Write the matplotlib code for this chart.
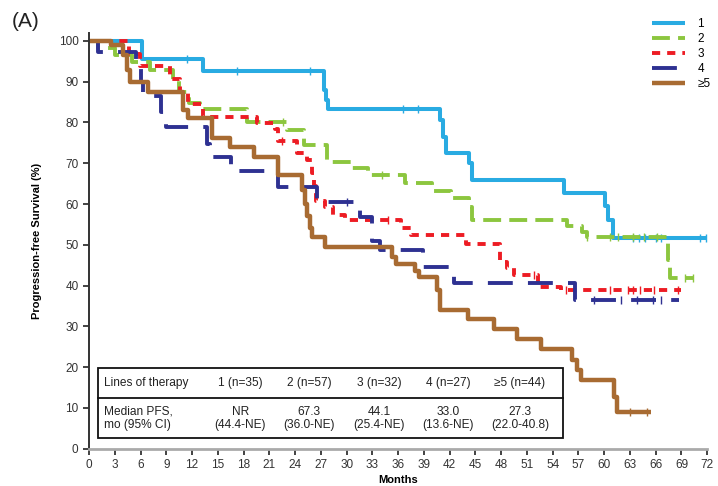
import numpy as np
import matplotlib.pyplot as plt
from matplotlib.patches import Rectangle

plt.rcParams['font.family'] = ['Liberation Sans', 'DejaVu Sans']

# Kaplan-Meier step data (months, % progression-free) per line of therapy
t1 = [0, 6.2, 13.3, 27.4, 27.6, 27.8, 40.9, 41.2, 41.6, 44.3, 44.6, 55.3, 60.1, 60.5, 61.0, 71.8]
s1 = [100, 95.6, 92.6, 88.0, 85.5, 83.2, 80.5, 76.4, 72.6, 70.0, 65.8, 62.7, 59.5, 56.0, 51.7, 51.7]
c1 = [11.4, 17.2, 25.7, 36.6, 38.3, 63.3, 64.0, 64.8, 66.0, 66.6, 71.2, 71.8]

t2 = [0, 1.0, 3.0, 5.0, 7.1, 9.8, 10.5, 11.7, 12.9, 18.4, 23.0, 25.0, 27.7, 30.6, 32.5, 36.8,
      40.0, 42.1, 44.2, 44.6, 55.7, 57.4, 58.0, 67.4, 67.7, 70.3]
s2 = [100, 98.2, 96.5, 94.7, 92.8, 90.4, 87.5, 84.7, 83.2, 80.1, 78.1, 74.4, 70.3, 68.8, 67.1, 65.1,
      63.2, 61.4, 59.2, 56.0, 54.6, 53.1, 52.0, 46.2, 41.8, 41.8]
c2 = [22.6, 34.1, 58.0, 60.7, 61.6, 63.3, 64.6, 66.2, 69.4, 70.3]

t3 = [0, 4.6, 5.9, 9.4, 10.6, 11.5, 13.3, 19.6, 21.7, 22.0, 24.2, 25.4, 26.0, 26.2, 26.4, 27.5,
      28.4, 29.8, 36.3, 37.5, 43.9, 47.9, 48.7, 49.5, 52.3, 55.0, 68.9]
s3 = [100, 96.9, 93.8, 90.6, 87.5, 84.4, 81.3, 79.8, 78.3, 75.5, 72.4, 70.7, 67.5, 64.4, 60.8, 59.2,
      57.4, 56.0, 54.0, 52.3, 50.3, 45.8, 44.2, 42.5, 39.6, 38.9, 38.9]
c3 = [22.5, 34.8, 51.8, 55.5, 60.7, 62.8, 63.3, 64.2, 65.8, 68.6]

t4 = [0, 1.0, 5.5, 6.0, 6.3, 8.4, 9.0, 13.7, 14.1, 16.5, 22.0, 26.5, 31.6, 33.0, 33.9, 38.9,
      42.5, 56.6, 68.7]
s4 = [100, 97.3, 93.6, 90.0, 86.5, 82.6, 79.0, 74.6, 71.5, 68.0, 64.2, 60.5, 56.9, 51.0, 48.7, 44.6,
      40.6, 36.4, 36.4]
c4 = [30.1, 58.8, 61.9, 63.8, 65.7, 66.6]

t5 = [0, 2.6, 3.9, 4.4, 4.8, 6.9, 11.0, 11.5, 14.3, 16.4, 19.2, 22.0, 24.8, 25.1, 25.4, 25.7,
      26.0, 27.5, 35.3, 35.8, 38.0, 38.4, 40.5, 40.9, 44.1, 47.2, 49.9, 52.6, 56.2, 56.8, 57.3,
      61.1, 61.5, 65.4]
s5 = [100, 99.0, 96.5, 92.8, 89.9, 87.5, 83.0, 81.0, 76.1, 74.0, 71.5, 67.1, 63.5, 60.0, 57.0, 54.1,
      51.8, 49.5, 47.1, 45.2, 43.6, 42.0, 38.9, 34.0, 31.8, 29.4, 26.8, 24.4, 21.8, 19.3, 16.8,
      12.7, 9.0, 9.0]
c5 = [63.0, 65.0]

labels = ['1', '2', '3', '4', '\u22655']
colors = ['#29abe2', '#8cc63f', '#ed1c24', '#2e3192', '#a86b32']
dashes = [None, (4.6, 2.1), (2.1, 1.8), (6.4, 3.9), None]
widths = [2.9, 2.8, 2.8, 2.8, 3.2]

# table under the curves
tbl_head = ['Lines of therapy', '1 (n=35)', '2 (n=57)', '3 (n=32)', '4 (n=27)', '\u22655 (n=44)']
tbl_pfs = ['Median PFS,\nmo (95% CI)', 'NR\n(44.4-NE)', '67.3\n(36.0-NE)', '44.1\n(25.4-NE)',
           '33.0\n(13.6-NE)', '27.3\n(22.0-40.8)']
col_x = [1.8, 17.6, 25.6, 33.8, 41.8, 50.2]

fig = plt.figure(figsize=(7.18, 4.86), dpi=100)
ax = fig.add_axes([0.124, 0.0767, 0.861, 0.856])

series = zip([t1, t2, t3, t4, t5], [s1, s2, s3, s4, s5], [c1, c2, c3, c4, c5])
handles = []
for i, (t, s, c) in enumerate(series):
    ln, = ax.step(t, s, where='post', color=colors[i], lw=widths[i],
                  solid_capstyle='butt', label=labels[i])
    if dashes[i] is not None:
        ln.set_dashes(dashes[i])
    handles.append(ln)
    idx = np.searchsorted(t, c, side='right') - 1
    ax.plot(c, np.array(s)[idx], ls='none', marker='|', ms=6, mew=1.0, color=colors[i])

ax.set_xlim(0, 72)
ax.set_ylim(0, 102)
ax.set_xticks(np.arange(0, 73, 3))
ax.set_yticks(np.arange(0, 101, 10))
ax.tick_params(labelsize=8.5, labelcolor='#333333', length=4, width=1.2, color='#222222')
for side in ['top', 'right']:
    ax.spines[side].set_visible(False)
ax.spines['left'].set_color('#333333')
ax.spines['left'].set_linewidth(1.4)
ax.spines['bottom'].set_color('#aaaaaa')
ax.spines['bottom'].set_linewidth(2.0)

ax.set_xlabel('Months', fontsize=8, fontweight='bold', labelpad=3)
ax.set_ylabel('Progression-free Survival (%)', fontsize=8, fontweight='bold', labelpad=12)
fig.text(0.016, 0.955, '(A)', fontsize=15, color='#222222', va='center')

# table box
ax.add_patch(Rectangle((1.0, 2.6), 54.2, 17.2, fill=False, lw=1.3, ec='#111111', zorder=5))
ax.plot([1.0, 55.2], [12.4, 12.4], color='#111111', lw=1.3, zorder=5)
for j in range(6):
    ha = 'left' if j == 0 else 'center'
    ax.text(col_x[j], 16.2, tbl_head[j], ha=ha, va='center', fontsize=8.6, color='#222222')
    ax.text(col_x[j], 7.4, tbl_pfs[j], ha=ha, va='center', fontsize=8.6, color='#222222',
            linespacing=1.15)

fig.legend(handles=handles, loc='upper left', bbox_to_anchor=(0.902, 0.972), frameon=False,
           fontsize=8.5, handlelength=2.8, handletextpad=1.0, labelspacing=0.25,
           borderaxespad=0)

fig.savefig('out.png', dpi=100)
